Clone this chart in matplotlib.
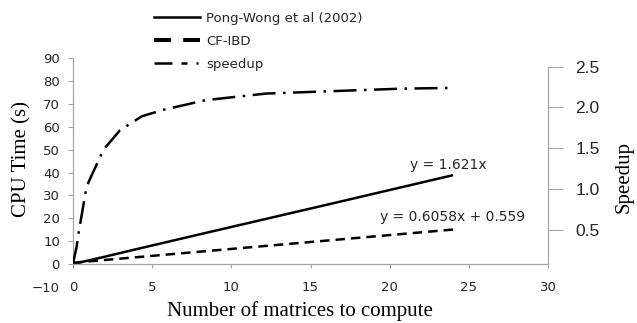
import matplotlib
matplotlib.use('Agg')
import matplotlib.pyplot as plt
from matplotlib.lines import Line2D
from matplotlib.ticker import FormatStrFormatter

# data
n_pw = [0, 1, 2, 4, 8, 16, 24]
cpu_pw = [0, 1.6, 3.2, 6.5, 13.0, 25.9, 38.9]
n_cf = [0, 1, 2, 4, 8, 16, 24]
cpu_cf = [0.56, 1.17, 1.77, 2.98, 5.4, 10.25, 15.1]
n_sp = [0, 0.23, 0.33, 0.86, 1.92, 2.97, 4.34, 5.7, 8.4, 12.2, 16.4, 20.7, 24]
speedup = [0.08, 0.29, 0.43, 1.03, 1.48, 1.72, 1.89, 1.97, 2.09, 2.17, 2.20, 2.23, 2.24]

left_ticks = [-10, 0, 10, 20, 30, 40, 50, 60, 70, 80, 90]
right_ticks = [0.5, 1.0, 1.5, 2.0, 2.5]
x_ticks = [0, 5, 10, 15, 20, 25, 30]

grey = '#a6a6a6'
txt = '#262626'
serif = 'Liberation Serif'

fig = plt.figure(figsize=(6.37, 3.23), dpi=100)
ax = fig.add_axes([0.1146, 0.1118, 0.7457, 0.7074])
ax2 = ax.twinx()

# CPU time lines on the left axis
ax.plot(n_pw, cpu_pw, color='black', lw=1.8, solid_capstyle='butt')
ax.plot(n_cf, cpu_cf, color='black', lw=1.8, dashes=(3.8, 2.4))
# speedup on the right axis
ax2.plot(n_sp, speedup, color='black', lw=1.8, dashes=(9.2, 3, 1, 3))

ax.set_xlim(0, 30)
ax.set_ylim(-10, 90)
ax.set_xticks(x_ticks)
ax.set_yticks(left_ticks)
ax2.set_ylim(-0.205, 2.602)
ax2.set_yticks(right_ticks)
ax2.yaxis.set_major_formatter(FormatStrFormatter('%.1f'))

for a in (ax, ax2):
    a.spines['top'].set_visible(False)
    a.patch.set_visible(False)
ax.spines['right'].set_visible(False)
ax2.spines['left'].set_visible(False)
ax2.spines['bottom'].set_visible(False)
ax.spines['bottom'].set_position(('data', 0))
ax.spines['left'].set_bounds(0, 90)
ax2.spines['right'].set_bounds(0.08, 2.5)
for s in ('left', 'bottom'):
    ax.spines[s].set_color(grey)
    ax.spines[s].set_linewidth(0.9)
ax2.spines['right'].set_color(grey)
ax2.spines['right'].set_linewidth(0.9)

ax.tick_params(axis='y', direction='out', length=3.6, width=0.8, color=grey,
               pad=5.8, labelsize=9.5, labelcolor=txt)
ax.tick_params(axis='x', direction='out', length=2.9, width=0.8, color=grey,
               pad=9, labelsize=9.5, labelcolor=txt)
ax.yaxis.get_major_ticks()[0].tick1line.set_visible(False)
ax2.tick_params(axis='y', direction='out', length=11, width=0.8, color=grey,
                pad=8.6, labelcolor=txt)
for lab in ax2.get_yticklabels():
    lab.set_fontfamily('Liberation Sans')
    lab.set_fontsize(12.5)

ax.set_xlabel('Number of matrices to compute', family=serif, fontsize=15)
ax.xaxis.set_label_coords(0.478, -0.062)
ax.set_ylabel('CPU Time (s)', family=serif, fontsize=15)
ax.yaxis.set_label_coords(-0.088, 0.56)
ax2.set_ylabel('Speedup', family=serif, fontsize=15, rotation=90)
ax2.yaxis.set_label_coords(1.14, 0.48)

# trendline equations
ax.text(21.3, 43.2, 'y = 1.621x', fontsize=10, color=txt, va='center')
ax.text(19.4, 20.5, 'y = 0.6058x + 0.559', fontsize=10, color=txt, va='center')

# legend above the plot
handles = [
    Line2D([], [], color='black', lw=1.8),
    Line2D([], [], color='black', lw=2.9, dashes=(4.25, 3)),
    Line2D([], [], color='black', lw=1.8, dashes=(7.2, 3.6, 2.4, 3.6, 0.8, 3.6)),
]
labels = ['Pong-Wong et al (2002)', 'CF-IBD', 'speedup']
fig.legend(handles, labels, loc='upper left', bbox_to_anchor=(0.2225, 1.0),
           frameon=False, fontsize=9.5, handlelength=3.5, handletextpad=0.5,
           labelspacing=0.75, borderpad=0.4, labelcolor=txt)

fig.savefig('out.png', dpi=100)
